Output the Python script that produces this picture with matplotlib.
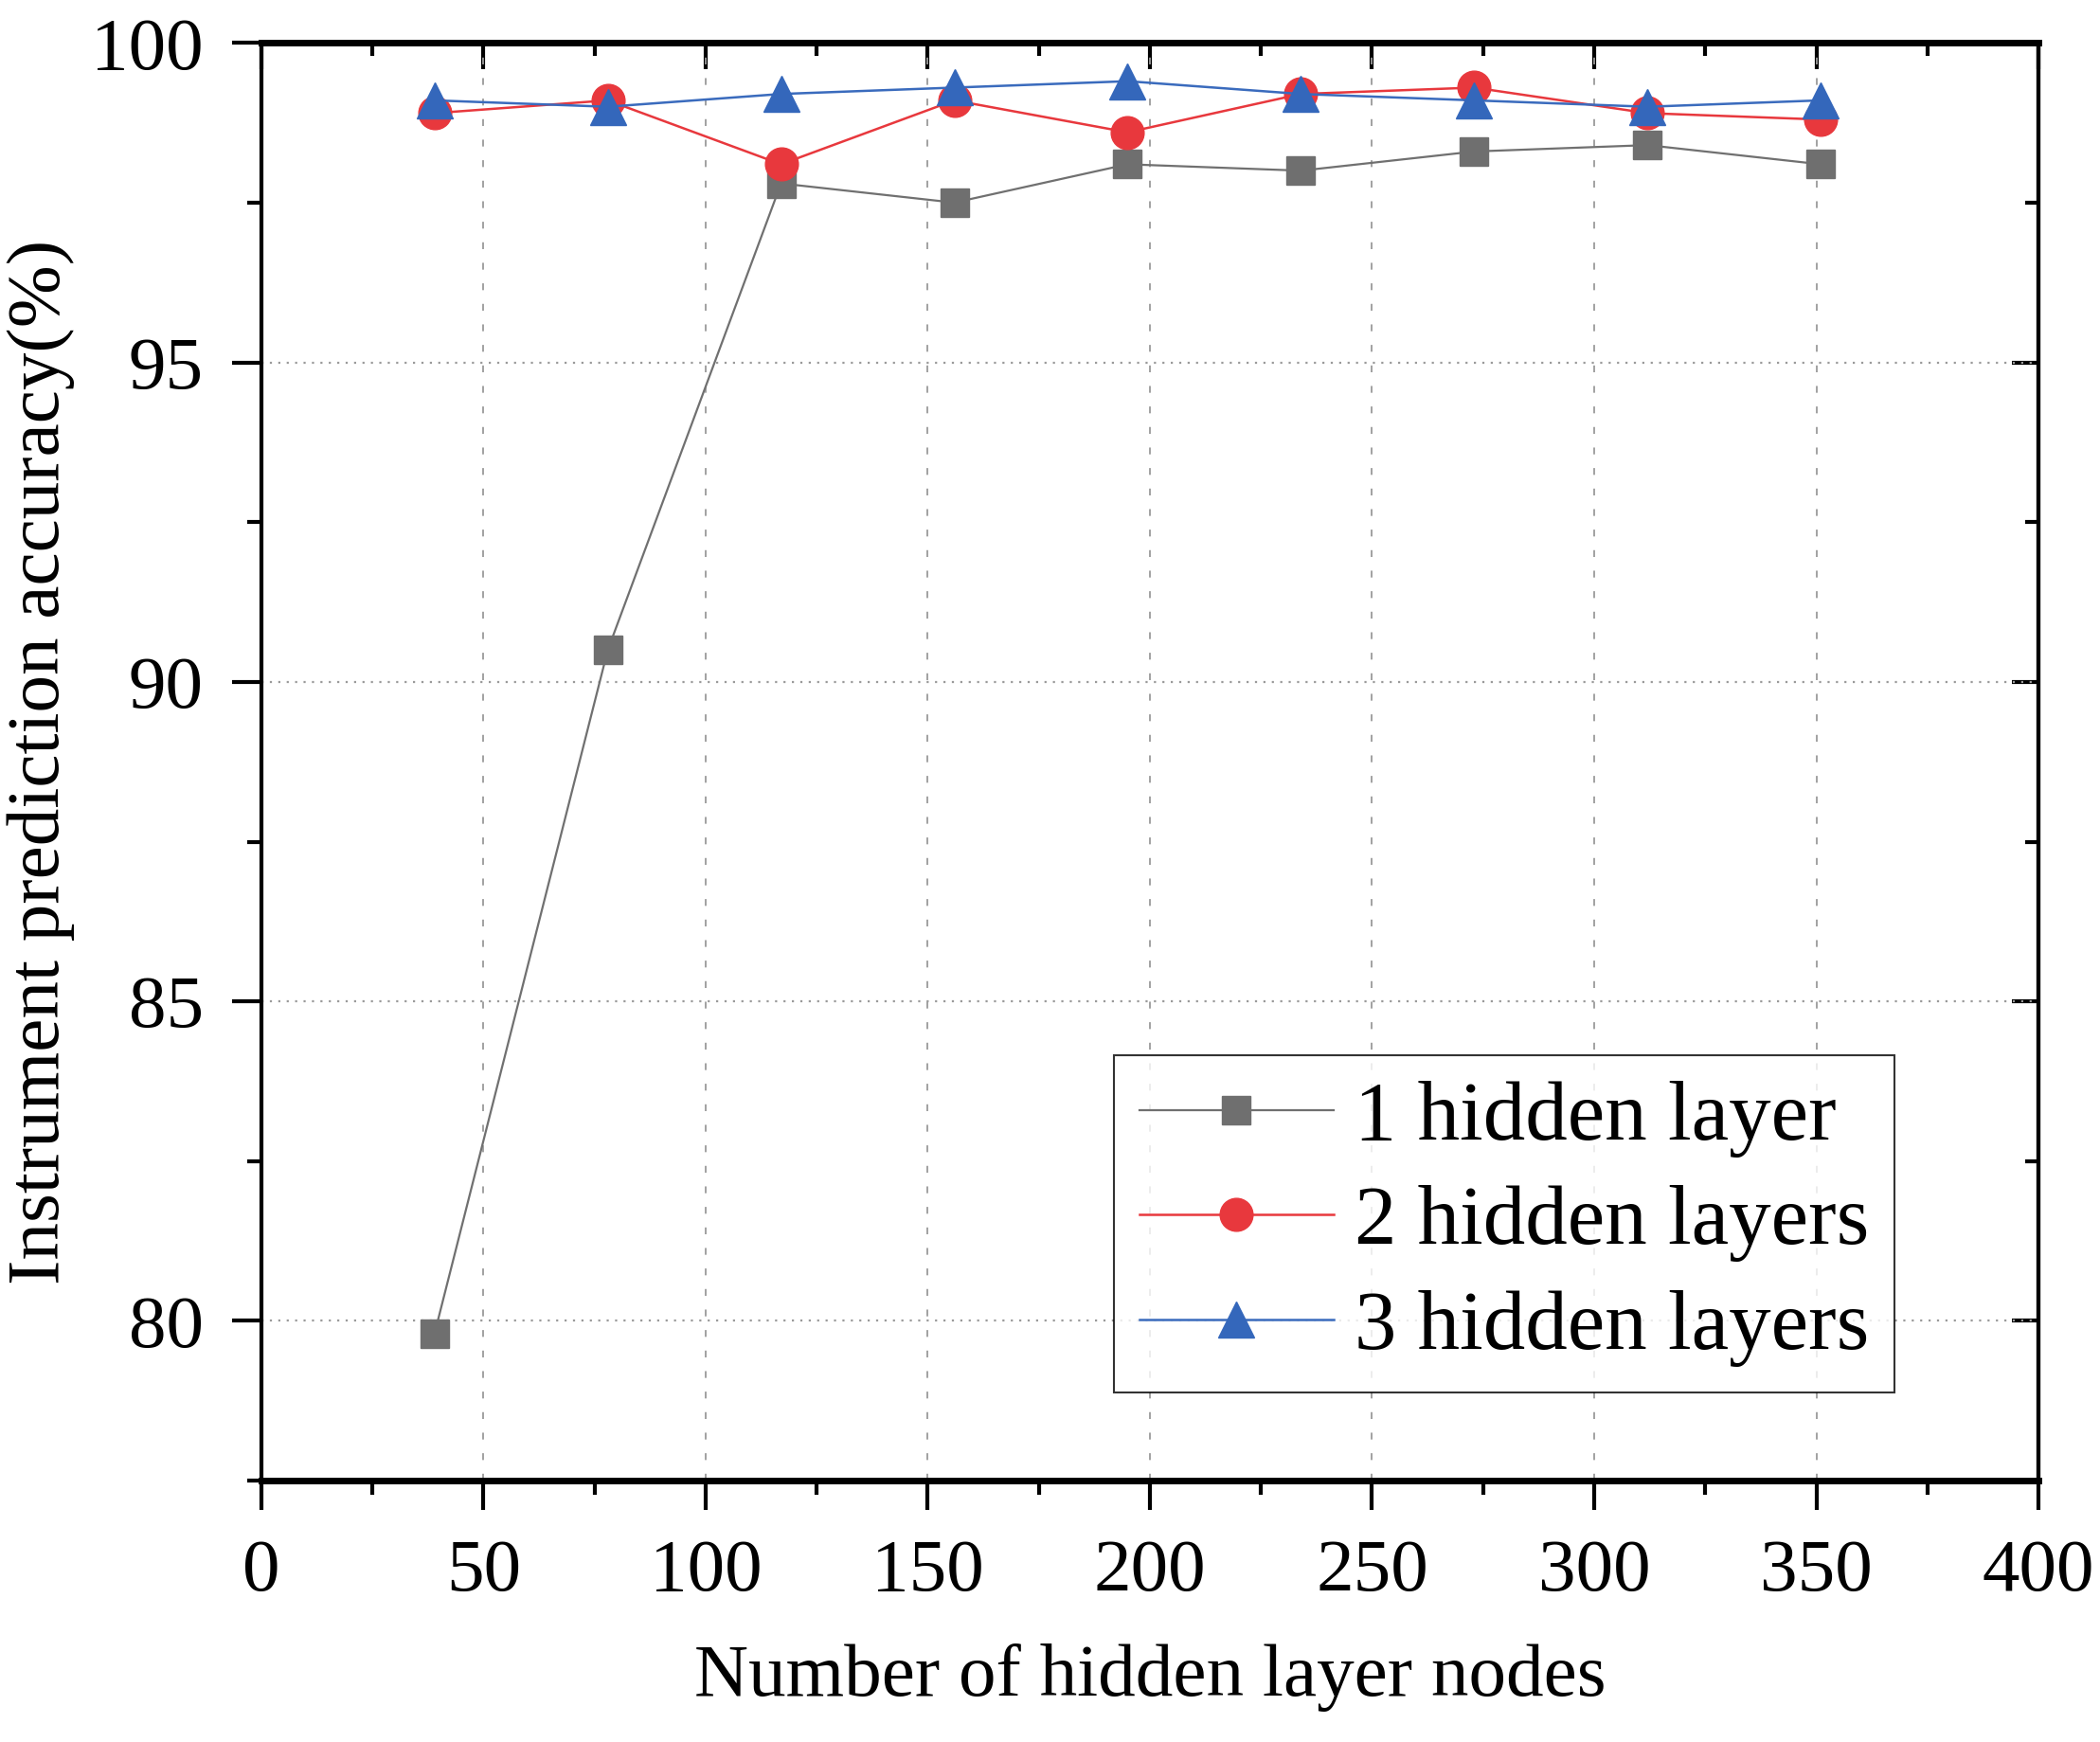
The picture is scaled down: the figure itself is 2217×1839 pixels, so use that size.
"""Prediction accuracy vs number of hidden layer nodes."""

import matplotlib
matplotlib.use("Agg")
import matplotlib.pyplot as plt
from matplotlib.ticker import MultipleLocator

nodes = [39, 78, 117, 156, 195, 234, 273, 312, 351]
acc_1_layer = [79.8, 90.5, 97.8, 97.5, 98.1, 98.0, 98.3, 98.4, 98.1]
acc_2_layers = [98.9, 99.1, 98.1, 99.1, 98.6, 99.2, 99.3, 98.9, 98.8]
acc_3_layers = [99.1, 99.0, 99.2, 99.3, 99.4, 99.2, 99.1, 99.0, 99.1]
labels = ["1 hidden layer", "2 hidden layers", "3 hidden layers"]

plt.rcParams["font.family"] = ["Liberation Serif", "DejaVu Serif"]

fig = plt.figure(figsize=(22.17, 18.39), dpi=100)
ax = fig.add_axes([0.1244, 0.15, 0.8463, 0.8254])

ax.plot(nodes, acc_1_layer, color="#707070", lw=1.6, marker="s", ms=22,
        markerfacecolor="#6f6f6f", markeredgecolor="#6f6f6f", label=labels[0], zorder=3)
ax.plot(nodes, acc_2_layers, color="#e8383d", lw=1.8, marker="o", ms=25,
        markerfacecolor="#e8383d", markeredgecolor="#e8383d", label=labels[1], zorder=4)
ax.plot(nodes, acc_3_layers, color="#3a6bbd", lw=1.8, marker="^", ms=27,
        markerfacecolor="#3467bb", markeredgecolor="#3467bb", label=labels[2], zorder=5)

ax.set_xlim(0, 400)
ax.set_ylim(77.5, 100)
ax.xaxis.set_major_locator(MultipleLocator(50))
ax.xaxis.set_minor_locator(MultipleLocator(25))
ax.yaxis.set_major_locator(MultipleLocator(5))
ax.yaxis.set_minor_locator(MultipleLocator(2.5))

# grid only at interior major ticks
for xv in range(50, 400, 50):
    ax.axvline(xv, color="#9a9a9a", lw=1.3, ls=(0, (4, 8)), zorder=1)
for yv in [80, 85, 90, 95]:
    ax.axhline(yv, color="#9a9a9a", lw=1.6, ls=(0, (1, 3)), zorder=1)

for side in ["left", "right", "top", "bottom"]:
    ax.spines[side].set_linewidth(3)
ax.spines["bottom"].set_linewidth(5)
ax.spines["top"].set_linewidth(5)

ax.tick_params(which="major", direction="out", length=22, width=3, labelsize=57, pad=22)
ax.tick_params(which="minor", direction="out", length=11, width=3)

top = ax.secondary_xaxis("top")
top.xaxis.set_major_locator(MultipleLocator(50))
top.xaxis.set_minor_locator(MultipleLocator(25))
top.tick_params(which="major", direction="in", length=20, width=3, labeltop=False)
top.tick_params(which="minor", direction="in", length=10, width=3)
top.spines["top"].set_linewidth(5)

right = ax.secondary_yaxis("right")
right.yaxis.set_major_locator(MultipleLocator(5))
right.yaxis.set_minor_locator(MultipleLocator(2.5))
right.tick_params(which="major", direction="in", length=20, width=3, labelright=False)
right.tick_params(which="minor", direction="in", length=10, width=3)
right.spines["right"].set_linewidth(3)

ax.set_xlabel("Number of hidden layer nodes", fontsize=57, labelpad=28)
ax.set_ylabel("Instrument prediction accuracy(%)", fontsize=57, labelpad=12)

leg = ax.legend(loc="upper left", bbox_to_anchor=(0.480, 0.296),
                fontsize=64, frameon=True, fancybox=False,
                edgecolor="black", handlelength=2.3, handletextpad=0.25,
                borderpad=0.3, borderaxespad=0, labelspacing=0.33)
leg.get_frame().set_linewidth(1.5)

fig.savefig("out.png", dpi=100)
